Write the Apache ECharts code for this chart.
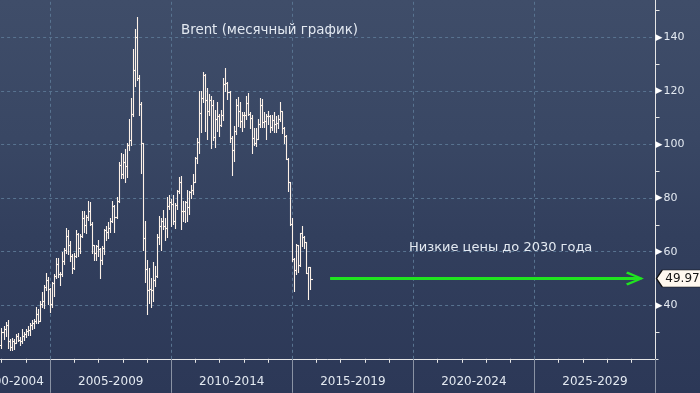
<!DOCTYPE html>
<html><head><meta charset="utf-8">
<script src="https://cdn.jsdelivr.net/npm/echarts@6/dist/echarts.min.js"></script>
<style>html,body{margin:0;padding:0;background:#2c3857}#c{width:700px;height:393px}</style>
</head><body><div id="c"></div>
<script>
// ---- data ----
const periodLabels = ['2000-2004','2005-2009','2010-2014','2015-2019','2020-2024','2025-2029'];
const yTickLabels = [40, 60, 80, 100, 120, 140];
const firstYear = 2002, firstMonth = 12;   // first monthly bar: Dec 2002
const open = [
  25.0,
  30.0,31.0,32.5,26.5,24.5,26.5,26.0,28.5,27.2,26.5,28.5,29.2,
  30.5,30.8,32.6,33.2,34.0,36.8,34.0,40.5,41.5,46.8,49.5,46.0,
  40.5,48.2,50.8,55.5,51.8,51.8,56.5,60.5,66.0,62.5,58.5,54.0,
  58.5,66.5,61.5,66.0,72.5,70.0,73.0,75.0,70.5,62.5,59.5,62.0,
  61.0,57.0,61.5,68.0,67.5,69.0,71.5,77.0,73.0,79.0,92.5,89.0,
  93.5,91.8,100.0,101.5,111.5,128.0,140.0,125.0,115.0,100.5,65.0,53.5,
  45.5,46.0,45.5,49.5,51.0,65.5,69.5,71.5,69.5,69.0,77.0,78.5,
  77.9,71.5,77.5,82.5,86.0,75.0,75.0,78.5,76.8,82.3,83.2,85.9,
  94.8,101.0,111.8,117.4,125.9,116.5,112.5,116.7,114.8,102.8,109.6,110.5,
  107.4,110.9,122.7,122.9,119.5,102.4,97.8,104.9,114.6,112.4,108.7,111.2,
  111.1,115.6,111.4,110.0,102.4,100.4,102.2,107.7,114.7,108.4,108.8,110.8,
  110.8,106.4,109.1,107.8,108.1,109.4,112.4,106.0,103.2,94.7,85.9,70.2,
  57.3,53.0,62.6,55.1,66.8,65.6,63.6,52.2,54.2
];
const high = [
  31.5,
  32.1,33.9,34.6,27.5,27.8,27.3,29.3,29.6,28.0,31.0,30.0,31.0,
  32.2,33.2,34.6,35.0,39.2,38.5,41.5,45.0,47.5,52.0,50.5,46.5,
  48.8,51.5,57.7,57.5,52.5,59.8,61.5,68.9,68.2,63.8,59.0,59.5,
  68.0,66.8,66.5,75.0,75.0,73.5,78.8,78.5,71.0,62.5,62.5,64.5,
  61.5,62.0,68.5,69.5,71.0,72.5,78.8,77.5,80.5,93.5,97.0,96.6,
  98.5,100.5,109.5,117.5,135.5,143.0,147.5,126.0,116.0,100.7,71.3,57.0,
  54.0,50.0,56.0,54.5,66.5,73.2,72.5,75.5,72.5,80.5,81.0,79.5,
  81.0,78.0,83.0,88.0,88.1,79.0,79.0,83.0,82.5,85.0,89.0,95.5,
  102.4,119.9,119.8,127.0,126.5,121.0,119.0,118.0,116.5,113.0,116.0,111.5,
  113.0,125.0,128.4,123.5,119.9,103.0,107.0,117.0,117.9,116.0,112.0,112.0,
  118.0,119.2,112.0,111.0,106.0,106.0,109.5,117.3,117.0,112.0,111.5,112.5,
  110.9,111.0,112.0,110.5,110.9,115.7,112.3,106.5,103.5,95.0,86.0,72.6,
  57.5,63.0,62.5,66.8,69.6,65.9,63.7,54.2,54.3
];
const low = [
  24.0,
  27.5,28.5,24.0,23.3,23.1,23.8,26.0,26.5,25.2,26.0,27.2,28.2,
  29.0,28.8,31.0,31.5,33.5,33.2,34.0,39.5,39.0,45.5,40.5,37.5,
  39.5,43.5,50.0,50.5,47.5,51.0,55.5,59.5,59.0,56.5,52.0,53.5,
  58.0,58.5,59.5,65.5,67.5,67.0,72.0,70.0,59.6,56.8,57.0,58.5,
  50.0,55.5,59.0,64.5,65.0,67.5,71.0,67.5,72.5,78.5,87.5,87.5,
  86.0,88.0,98.0,100.0,110.5,122.0,124.0,111.0,89.5,60.5,48.5,36.8,
  41.0,39.5,41.5,47.0,50.5,63.0,60.5,68.5,64.5,65.5,76.0,69.5,
  70.5,69.0,76.0,82.0,68.5,71.5,71.0,71.5,74.0,80.0,81.5,85.9,
  93.0,97.0,104.5,116.0,105.0,102.0,111.0,98.7,101.5,99.0,105.0,103.0,
  107.0,109.0,120.0,117.0,101.0,88.5,94.0,104.0,107.0,106.5,105.0,106.5,
  109.5,111.0,106.0,96.8,100.0,99.5,102.0,106.5,106.6,106.5,102.0,107.5,
  104.5,105.5,104.5,104.5,106.3,108.9,104.3,100.6,94.6,82.6,69.8,56.5,
  45.2,51.5,52.5,54.5,62.2,61.3,52.1,42.2,46.0
];
const close = [
  30.0,
  31.0,32.5,26.5,24.5,26.5,26.0,28.5,27.2,26.5,28.5,29.2,30.5,
  30.8,32.6,33.2,34.0,36.8,34.0,40.5,41.5,46.8,49.5,46.0,40.5,
  48.2,50.8,55.5,51.8,51.8,56.5,60.5,66.0,62.5,58.5,54.0,58.5,
  66.5,61.5,66.0,72.5,70.0,73.0,75.0,70.5,62.5,59.5,62.0,61.0,
  57.0,61.5,68.0,67.5,69.0,71.5,77.0,73.0,79.0,92.5,89.0,93.5,
  91.8,100.0,101.5,111.5,128.0,140.0,125.0,115.0,100.5,65.0,53.5,45.5,
  46.0,45.5,49.5,51.0,65.5,69.5,71.5,69.5,69.0,77.0,78.5,77.9,
  71.5,77.5,82.5,86.0,75.0,75.0,78.5,76.8,82.3,83.2,85.9,94.8,
  101.0,111.8,117.4,125.9,116.5,112.5,116.7,114.8,102.8,109.6,110.5,107.4,
  110.9,122.7,122.9,119.5,102.4,97.8,104.9,114.6,112.4,108.7,111.2,111.1,
  115.6,111.4,110.0,102.4,100.4,102.2,107.7,114.7,108.4,108.8,110.8,110.8,
  106.4,109.1,107.8,108.1,109.4,112.4,106.0,103.2,94.7,85.9,70.2,57.3,
  53.0,62.6,55.1,66.8,65.6,63.6,52.2,54.2,49.97
];
const lastPrice = 49.97;
const titleText = 'Brent (месячный график)';
const noteText = 'Низкие цены до 2030 года';
const arrowFrom = 2016.56, arrowTo = 2029.15;   // forecast arrow span (years)

// ---- chart ----
const FONT = 'DejaVu Sans';
const TXT = '#e3e9f1';
const GRID = '#587390';
const BAR = '#fdf1e8';

const data = open.map((o, i) => {
  const t = firstYear * 12 + (firstMonth - 1) + i;
  const y = Math.floor(t / 12), m = t % 12;
  return [y + (m + 1) / 12 - 0.01, o, high[i], low[i], close[i]];
});

const chart = echarts.init(document.getElementById('c'), null, {renderer: 'canvas', width: 700, height: 393});

const arrowPath = 'path://M7,0 L14,16 L12,17.6 L7,5 L2,17.6 L0,16 Z M5.8,2 L8.2,2 L8.2,10 L5.8,10 Z';
const tagPath = 'path://M0,8 L6,0 L48,0 L48,16 L6,16 Z';
const snap = v => Math.round(v) + 0.5;

chart.setOption({
  animation: false,
  backgroundColor: {type: 'linear', x: 0, y: 0, x2: 0, y2: 1, colorStops: [
    {offset: 0, color: '#3f4d69'}, {offset: 0.35, color: '#394764'},
    {offset: 0.6, color: '#323f5d'}, {offset: 1, color: '#2c3857'}]},
  title: [
    {text: titleText, left: 181, top: 24, padding: 0,
     textStyle: {color: TXT, fontSize: 13.4, fontWeight: 'normal', fontFamily: FONT}},
    {text: noteText, left: 409, top: 241, padding: 0,
     textStyle: {color: TXT, fontSize: 13, fontWeight: 'normal', fontFamily: FONT}}
  ],
  grid: {left: -70.9, right: 44.5, top: -16.2, bottom: 34.2, containLabel: false, outerBoundsMode: 'none'},
  xAxis: [
    {type: 'value', min: 2000, max: 2030, interval: 5,
     axisLine: {show: true, onZero: false, lineStyle: {color: '#e6e6e6', width: 1}},
     axisTick: {show: true, length: 34, lineStyle: {color: '#8a93a4'}},
     minorTick: {show: true, splitNumber: 5, length: 4, lineStyle: {color: '#e6e6e6'}},
     axisLabel: {show: false},
     splitLine: {show: true, lineStyle: {color: GRID, type: [3, 3]}},
     minorSplitLine: {show: false}},
    {type: 'category', data: periodLabels, position: 'bottom', boundaryGap: true,
     axisLine: {show: false}, axisTick: {show: false}, splitLine: {show: false},
     axisLabel: {interval: 0, color: TXT, fontSize: 12, fontFamily: FONT, margin: 17,
       formatter: (v, i) => i === 0 ? '{first|' + v + '}' : v,
       rich: {first: {padding: [0, 0, 0, 43], color: TXT, fontSize: 12, fontFamily: FONT}}}}
  ],
  yAxis: {type: 'value', position: 'right', min: 20, max: 160, interval: 20,
    axisLine: {show: true, onZero: false, lineStyle: {color: '#e6e6e6'}},
    axisTick: {show: true, length: 3, lineStyle: {color: '#e6e6e6'}},
    minorTick: {show: true, splitNumber: 2, length: 4, lineStyle: {color: '#e6e6e6'}},
    splitLine: {show: true, lineStyle: {color: GRID, type: [3, 3]}},
    axisLabel: {margin: 0, color: TXT, fontSize: 11, fontFamily: FONT,
      formatter: v => yTickLabels.includes(v) ? '{t|▶}{v|' + v + '}' : '',
      rich: {t: {fontSize: 9, color: '#ffffff', fontFamily: FONT, padding: [0, 1, 0, 0]},
             v: {fontSize: 11, color: TXT, fontFamily: FONT}}}},
  series: [{
    type: 'custom', xAxisIndex: 0, yAxisIndex: 0, clip: false,
    data: data, encode: {x: 0, y: [1, 2, 3, 4]},
    renderItem: (params, api) => {
      const x = api.value(0);
      const pH = api.coord([x, api.value(2)]);
      const pL = api.coord([x, api.value(3)]);
      const pO = api.coord([x, api.value(1)]);
      const pC = api.coord([x, api.value(4)]);
      const cx = snap(pH[0]);
      const st = {stroke: BAR, lineWidth: 1.1};
      return {type: 'group', children: [
        {type: 'line', shape: {x1: cx, y1: Math.round(pH[1]), x2: cx, y2: Math.round(pL[1]) + 1}, style: st},
        {type: 'line', shape: {x1: cx - 2.5, y1: snap(pO[1]), x2: cx, y2: snap(pO[1])}, style: st},
        {type: 'line', shape: {x1: cx, y1: snap(pC[1]), x2: cx + 2.5, y2: snap(pC[1])}, style: st}
      ]};
    },
    markLine: {silent: true, animation: false, symbol: ['none', arrowPath], symbolSize: [14, 18],
      lineStyle: {color: '#20e420', width: 3, type: 'solid'}, label: {show: false},
      emphasis: {disabled: true},
      data: [[{coord: [arrowFrom, lastPrice]}, {coord: [arrowTo, lastPrice]}]]},
    markPoint: {silent: true, animation: false, symbol: tagPath, symbolSize: [46, 17], symbolOffset: [24, 0],
      itemStyle: {color: '#fff8ef', borderColor: '#111111', borderWidth: 1},
      label: {show: true, position: 'inside', offset: [3, 0], color: '#151515', fontSize: 12, fontFamily: FONT,
        formatter: String(lastPrice)},
      data: [{coord: [2030, lastPrice]}]}
  }]
});
</script>
</body></html>
